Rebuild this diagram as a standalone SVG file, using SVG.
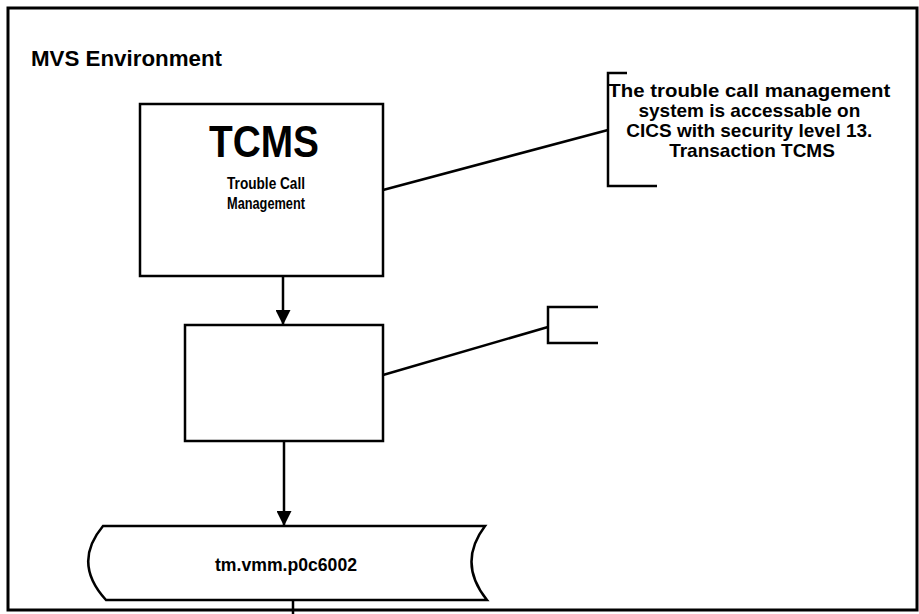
<svg xmlns="http://www.w3.org/2000/svg" width="919" height="614" viewBox="0 0 919 614">
<defs>
<style>
.ln{fill:none;stroke:#000;stroke-width:2.5}
.bx{fill:#fff;stroke:#000;stroke-width:2.5}
.t{font-family:"Liberation Sans",Arial,sans-serif;fill:#000;font-weight:bold}
</style>
<marker id="ah" viewBox="0 0 10 10" refX="10" refY="5" markerWidth="6" markerHeight="6" markerUnits="strokeWidth" orient="auto">
<path d="M0,0 L10,5 L0,10 Z" fill="#000"/>
</marker>
</defs>
<rect width="919" height="614" fill="#fff"/>
<rect x="8" y="8" width="909" height="602" fill="none" stroke="#000" stroke-width="3"/>
<text class="t" x="31" y="66" font-size="22" textLength="191" lengthAdjust="spacingAndGlyphs">MVS Environment</text>
<g id="connectors">
<line x1="383" y1="190" x2="608" y2="130" class="ln"/>
<line x1="383" y1="375" x2="548" y2="327" class="ln"/>
<line x1="283" y1="276" x2="283" y2="325" class="ln" marker-end="url(#ah)"/>
<line x1="284" y1="441" x2="284" y2="526" class="ln" marker-end="url(#ah)"/>
<line x1="293" y1="600" x2="293" y2="614" class="ln"/>
</g>
<g id="tcms">
<rect x="140" y="104" width="243" height="172" class="bx"/>
<text class="t" x="264" y="157" font-size="44" text-anchor="middle" textLength="110" lengthAdjust="spacingAndGlyphs">TCMS</text>
<text class="t" x="266" y="189" font-size="16" text-anchor="middle" textLength="78" lengthAdjust="spacingAndGlyphs">Trouble Call</text>
<text class="t" x="266" y="209" font-size="16" text-anchor="middle" textLength="78" lengthAdjust="spacingAndGlyphs">Management</text>
</g>
<g id="note1">
<path d="M627,73 L608,73 L608,186 L657,186" class="ln"/>
<text class="t" font-size="19" text-anchor="middle">
<tspan x="752" y="97" textLength="282" lengthAdjust="spacingAndGlyphs">The trouble call management</tspan>
<tspan x="752" y="117">system is accessable on</tspan>
<tspan x="752" y="137">CICS with security level 13.</tspan>
<tspan x="752" y="157">Transaction TCMS</tspan>
</text>
</g>
<g id="process">
<rect x="185" y="325" width="198" height="116" class="bx"/>
</g>
<g id="note2">
<path d="M598,307 L548,307 L548,343 L598,343" class="ln"/>
</g>
<g id="dataset">
<path d="M103,526 L485,526 Q457,563 487,600 L106,600 Q72,563 103,526 Z" class="bx"/>
<text class="t" x="286" y="571" font-size="18" text-anchor="middle" textLength="142" lengthAdjust="spacingAndGlyphs">tm.vmm.p0c6002</text>
</g>
</svg>
